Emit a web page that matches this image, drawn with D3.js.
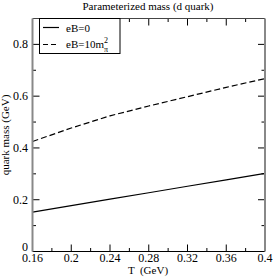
<html>
<head>
<meta charset="utf-8">
<title>Parameterized mass</title>
<script src="https://cdn.jsdelivr.net/npm/d3@7"></script>
<style>
  body { margin: 0; background: #fff; }
  text { font-family: "Liberation Serif", "Times New Roman", serif; }
</style>
</head>
<body>
<script>
// temperature points (GeV)
var temps = [0.16, 0.20, 0.24, 0.28, 0.32, 0.36, 0.40];
// quark mass (GeV) for each field strength
var massB0 = [0.152, 0.177, 0.202, 0.227, 0.252, 0.277, 0.302];
var massB10 = [0.425, 0.477, 0.524, 0.562, 0.598, 0.634, 0.668];
var xTicks = [0.16, 0.2, 0.24, 0.28, 0.32, 0.36, 0.4];
var yTicks = [0, 0.2, 0.4, 0.6, 0.8];

var W = 273, H = 277;
// plot edges (note: "top" is reserved on window, so use pTop etc.)
var pLeft = 32.5, pRight = 265, pTop = 18.5, pBottom = 251.5;

var svg = d3.select("body").append("svg")
    .attr("width", W).attr("height", H);

var x = d3.scaleLinear().domain([0.16, 0.4]).range([pLeft, pRight]);
var y = d3.scaleLinear().domain([0, 0.9]).range([pBottom, pTop]);

// minor ticks
var xMinor = [0.18, 0.22, 0.26, 0.30, 0.34, 0.38];
var yMinor = [0.1, 0.3, 0.5, 0.7];

var g = svg.append("g");

// major / minor ticks, drawn inward on all four sides
function tickLines(vals, len, horiz) {
  vals.forEach(function(v) {
    if (horiz) {
      g.append("line").attr("x1", x(v)).attr("x2", x(v))
        .attr("y1", pBottom).attr("y2", pBottom - len).attr("stroke", "#000");
      g.append("line").attr("x1", x(v)).attr("x2", x(v))
        .attr("y1", pTop).attr("y2", pTop + len).attr("stroke", "#000");
    } else {
      g.append("line").attr("y1", y(v)).attr("y2", y(v))
        .attr("x1", pLeft).attr("x2", pLeft + len).attr("stroke", "#000");
      g.append("line").attr("y1", y(v)).attr("y2", y(v))
        .attr("x1", pRight).attr("x2", pRight - len).attr("stroke", "#000");
    }
  });
}
tickLines(xTicks.slice(1, -1), 7, true);
tickLines(xMinor, 3.5, true);
tickLines(yTicks.slice(1), 7, false);
tickLines(yMinor, 3.5, false);

// lines
var line = d3.line()
    .x(function(d, i) { return x(temps[i]); })
    .y(function(d) { return y(d); });

svg.append("path").attr("d", line(massB0))
  .attr("fill", "none").attr("stroke", "#000").attr("stroke-width", 1.2);
svg.append("path").attr("d", line(massB10))
  .attr("fill", "none").attr("stroke", "#000").attr("stroke-width", 1.2)
  .attr("stroke-dasharray", "6,3");

// frame
svg.append("line").attr("x1", pLeft).attr("x2", pRight).attr("y1", pTop).attr("y2", pTop)
  .attr("stroke", "#444").attr("stroke-width", 1.2);
svg.append("line").attr("x1", pLeft).attr("x2", pRight).attr("y1", pBottom).attr("y2", pBottom)
  .attr("stroke", "#000").attr("stroke-width", 1.2);
svg.append("line").attr("x1", pLeft).attr("x2", pLeft).attr("y1", pTop).attr("y2", pBottom)
  .attr("stroke", "#888").attr("stroke-width", 2);
svg.append("line").attr("x1", pRight).attr("x2", pRight).attr("y1", pTop).attr("y2", pBottom)
  .attr("stroke", "#888").attr("stroke-width", 2);

// tick labels
svg.selectAll(".xl").data(xTicks).enter().append("text")
  .attr("x", function(d) { return x(d); })
  .attr("y", 262)
  .attr("text-anchor", "middle")
  .attr("font-size", 12)
  .text(function(d) { return d; });

svg.selectAll(".yl").data(yTicks).enter().append("text")
  .attr("x", 28)
  .attr("y", function(d) { return d === 0 ? y(d) - 1 : y(d) + 4; })
  .attr("text-anchor", "end")
  .attr("font-size", 12)
  .text(function(d) { return d; });

// titles
svg.append("text").attr("x", 148).attr("y", 10)
  .attr("text-anchor", "middle").attr("font-size", 11)
  .text("Parameterized mass (d quark)");
svg.append("text").attr("x", 148).attr("y", 274)
  .attr("text-anchor", "middle").attr("font-size", 11)
  .attr("xml:space", "preserve")
  .text("T  (GeV)");
svg.append("text")
  .attr("transform", "translate(9," + ((pTop + pBottom) / 2) + ") rotate(-90)")
  .attr("text-anchor", "middle").attr("font-size", 11)
  .text("quark mass (GeV)");

// legend
var lg = svg.append("g");
lg.append("rect").attr("x", 39.5).attr("y", pTop).attr("width", 80.5).attr("height", 35)
  .attr("fill", "#fff").attr("stroke", "#000").attr("stroke-width", 1);
lg.append("line").attr("x1", 43).attr("x2", 59).attr("y1", 27.5).attr("y2", 27.5)
  .attr("stroke", "#000").attr("stroke-width", 1.2);
lg.append("line").attr("x1", 43).attr("x2", 59).attr("y1", 44.5).attr("y2", 44.5)
  .attr("stroke", "#000").attr("stroke-width", 1.2).attr("stroke-dasharray", "5,3");
lg.append("text").attr("x", 66).attr("y", 31.5).attr("font-size", 11).text("eB=0");
var t2 = lg.append("text").attr("x", 66).attr("y", 48).attr("font-size", 11);
t2.append("tspan").text("eB=10m");
t2.append("tspan").attr("dy", -5).attr("font-size", 8).text("2");
t2.append("tspan").attr("dy", 9).attr("dx", -4).attr("font-size", 8).text("\u03c0");
</script>
</body>
</html>
